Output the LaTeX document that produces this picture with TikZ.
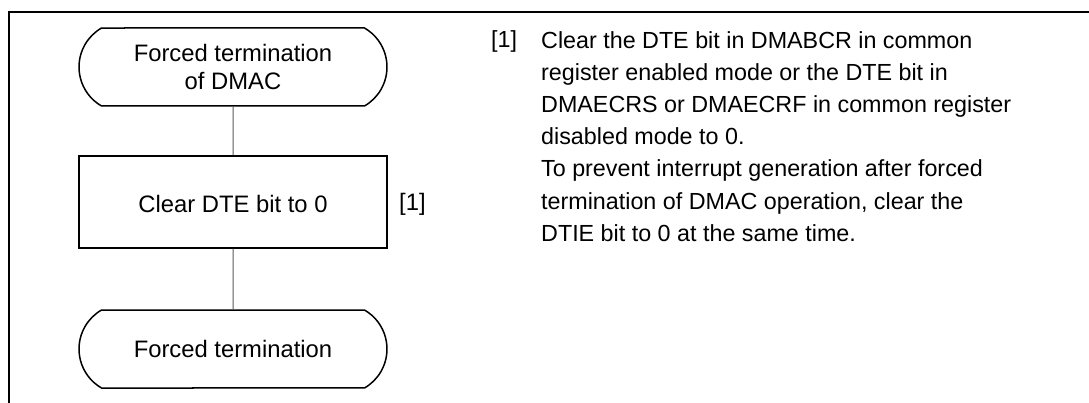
\documentclass[tikz,border=0pt]{standalone}
\usepackage{fontspec}
\setmainfont{Liberation Sans}
\usetikzlibrary{shapes.misc}
\begin{document}
\begin{tikzpicture}[x=1pt,y=-1pt,
  boxfont/.style={font=\fontsize{23.8}{28}\selectfont},
  term/.style={draw, line width=1.5pt, rounded rectangle, rounded rectangle arc length=120,
    minimum width=308pt, minimum height=78pt, inner sep=0pt, align=center, boxfont},
  proc/.style={draw, line width=1.5pt, rectangle, minimum width=308pt, minimum height=92pt,
    inner sep=0pt, text height=22pt, text depth=0pt, boxfont},
  link/.style={draw=black!65, line width=1pt},
  frameline/.style={line width=2.3pt},
  desc/.style={font=\fontsize{23.3}{32.2}\selectfont, inner sep=0pt}]
\useasboundingbox (0,0) rectangle (1089,403);
% frame
\coordinate (fa) at (8.7,403);
\coordinate (fb) at (8.7,12);
\coordinate (fc) at (1089,12);
\draw[frameline] (fa) -- (fb) -- (fc);
% flowchart
\node[term] (start) at (233,67) {Forced termination\\of DMAC};
\node[proc] (clear) at (233,202) {Clear DTE bit to 0};
\node[term] (stop) at (233,349) {Forced termination};
\draw[link] (start) -- (clear);
\draw[link] (clear) -- (stop);
\node[boxfont, inner sep=0pt, anchor=base west] (lab) at (399,211) {[1]};
% description
\node[desc, anchor=base west] (num) at (491,48) {[1]};
\node[desc, anchor=north west, align=left] (text) at (541,28) {\rule{0pt}{20pt}Clear the DTE bit in DMABCR in common\\
register enabled mode or the DTE bit in\\
DMAECRS or DMAECRF in common register\\
disabled mode to 0.\\
To prevent interrupt generation after forced\\
termination of DMAC operation, clear the\\
DTIE bit to 0 at the same time.};
\end{tikzpicture}
\end{document}
